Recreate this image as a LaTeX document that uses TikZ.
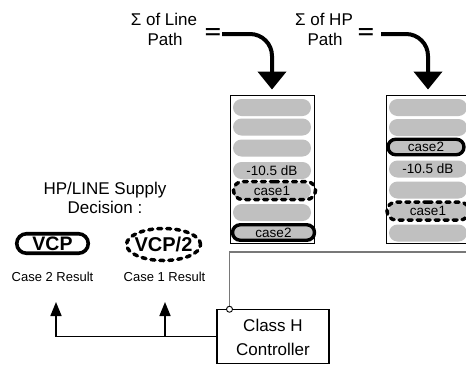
\documentclass[tikz,border=0pt]{standalone}
\usepackage{fontspec}
\setmainfont{Liberation Sans}
\usepackage{graphicx}
\usetikzlibrary{arrows.meta,shapes.misc,shapes.geometric}
\definecolor{pillgray}{RGB}{192,192,192}
\definecolor{wiregray}{RGB}{120,120,120}
\begin{document}
\begin{tikzpicture}[x=1pt,y=-1pt,
  lbl/.style={inner sep=0pt,anchor=base,font=\fontsize{17pt}{20pt}\selectfont},
  small/.style={inner sep=0pt,anchor=base,font=\fontsize{13pt}{15pt}\selectfont},
  eqs/.style={inner sep=0pt,font=\fontsize{24pt}{24pt}\selectfont\bfseries},
  stackbox/.style={draw,fill=white,line width=0.9pt,minimum width=84pt,minimum height=148pt,inner sep=0pt},
  pill/.style={rounded rectangle,fill=pillgray,minimum width=78pt,minimum height=17pt,inner sep=0pt,
    font=\fontsize{13.5pt}{15pt}\selectfont},
  boldpill/.style={pill,draw=black,line width=3.4pt,minimum height=15.5pt},
  dashring/.style={rounded rectangle,draw=black,line width=3.5pt,dash pattern=on 4pt off 5pt,
    line cap=round,minimum width=82pt,minimum height=18pt,inner sep=0pt},
  bigarrow/.style={line width=4pt,-{Triangle[width=28pt,length=18pt]},rounded corners=22pt,shorten >=5pt},
  conn/.style={line width=1.6pt,-{Triangle[width=11pt,length=14pt]}},
  wire/.style={draw=wiregray,line width=1.5pt},
  ctrlbox/.style={draw,fill=white,line width=1.2pt,minimum width=112pt,minimum height=54.5pt,inner sep=0pt,
    align=center,font=\fontsize{17pt}{24pt}\selectfont},
  tapdot/.style={circle,draw,fill=white,line width=0.9pt,minimum size=6pt,inner sep=0pt},
  vcpbox/.style={rounded rectangle,draw,line width=3.6pt,minimum width=71.5pt,minimum height=19.5pt,
    inner sep=0pt,font=\fontsize{19.5pt}{20pt}\selectfont\bfseries},
  vcptwo/.style={ellipse,draw,line width=3.5pt,dash pattern=on 4pt off 5pt,line cap=round,
    minimum width=74pt,minimum height=32pt,inner sep=0pt,font=\fontsize{20pt}{20pt}\selectfont\bfseries}
]
\useasboundingbox (0,0) rectangle (466,365);
\clip (0,0) rectangle (466,365);

% top labels
\node[lbl] (s1a) at (164,25) {Σ of Line};
\node[lbl] (s1b) at (165,45.5) {Path};
\node[eqs] (eq1) at (213,34) {\scalebox{1.15}[0.8]{=}};
\node[lbl] (s2a) at (324,25) {Σ of HP};
\node[lbl] (s2b) at (325,45.5) {Path};
\node[eqs] (eq2) at (366,34) {\scalebox{1.15}[0.8]{=}};

% stacks
\node[stackbox] (box1) at (272,169) {};
\node[stackbox] (box2) at (428,169) {};

\node[pill] (l1) at (272,107.5) {};
\node[pill] (l2) at (272,127) {};
\node[pill] (l3) at (272,148) {};
\node[pill] (l4) at (272,170.5) {-10.5 dB};
\node[pill] (l5) at (272,191) {case1};
\node[pill] (l6) at (272,212.5) {};
\node[boldpill,minimum width=82pt] (l7) at (273.5,232.5) {case2};
\node[dashring] (l5o) at (274.5,190.5) {};

\node[pill] (r1) at (428,107.5) {};
\node[pill] (r2) at (428,127.5) {};
\node[boldpill,minimum width=76pt] (r3) at (426,147) {case2};
\node[pill] (r4) at (428,169) {-10.5 dB};
\node[pill] (r5) at (428,190) {};
\node[pill] (r6) at (428,211) {case1};
\node[pill] (r7) at (428,233) {};
\node[dashring] (r6o) at (428,211) {};

% big arrows
\coordinate (a1) at (222,34);
\coordinate (a2) at (381,34);
\draw[bigarrow] (a1) -| (box1.north);
\draw[bigarrow] (a2) -| (box2.north);

% controller and wire
\node[ctrlbox] (ctrl) at (273,336.5) {\rule{0pt}{15pt}Class H\\Controller};
\coordinate (tap) at (229.5,309.25);
\coordinate (wend) at (470,252);
\draw[wire] (tap) |- (wend);
\node[tapdot] (tapc) at (tap) {};

% decision
\node[lbl] (dec1) at (105,194) {HP/LINE Supply};
\node[lbl] (dec2) at (105,213) {Decision :};
\node[vcpbox] (vcp) at (52.5,243.5) {VCP};
\node[vcptwo] (vcp2) at (163.5,244.5) {\makebox[0pt]{VCP/2}};
\node[small] (c2r) at (52.5,281) {Case 2 Result};
\node[small] (c1r) at (164.5,281) {Case 1 Result};

\coordinate (t1) at (56,302);
\coordinate (t2) at (165,302);
\draw[conn] (ctrl.west) -| (t1);
\draw[conn] (ctrl.west -| t2) -- (t2);
\end{tikzpicture}
\end{document}
